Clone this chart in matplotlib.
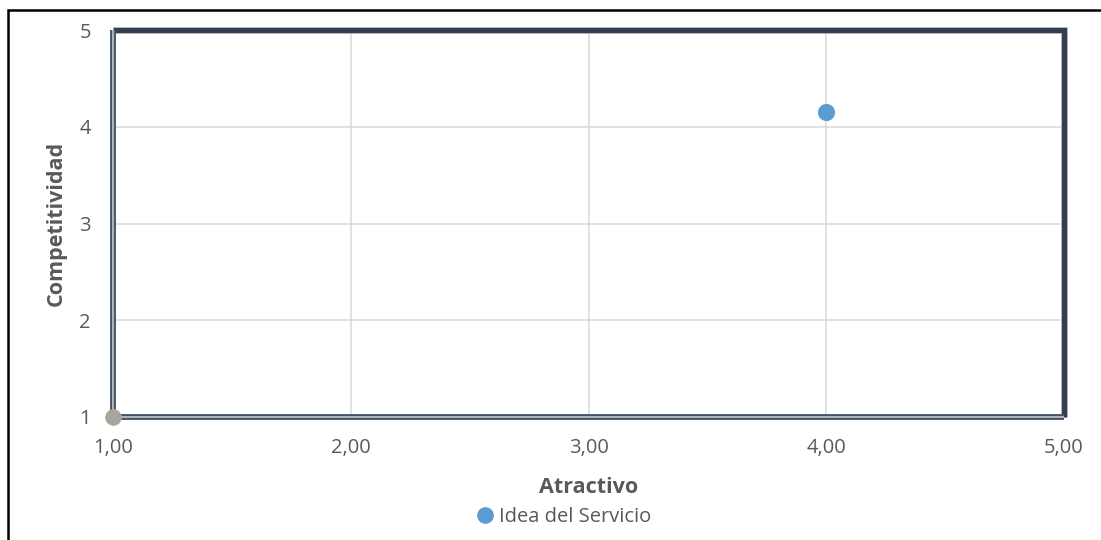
import matplotlib
matplotlib.use("Agg")
import matplotlib.pyplot as plt
from matplotlib.lines import Line2D

plt.rcParams['font.family'] = ['Open Sans', 'DejaVu Sans']

# Data
series_name = "Idea del Servicio"
atractivo = [4.0]
competitividad = [4.15]
origin_x = [1.0]
origin_y = [1.0]
x_ticks = [1, 2, 3, 4, 5]
x_tick_labels = ["1,00", "2,00", "3,00", "4,00", "5,00"]
y_ticks = [1, 2, 3, 4, 5]
y_tick_labels = ["1", "2", "3", "4", "5"]
x_min, x_max = 1, 5
y_min, y_max = 1, 5

W, H = 1101, 540
fig = plt.figure(figsize=(W / 100, H / 100), dpi=100)
ax = fig.add_axes([113 / W, 1 - 417 / H, 951 / W, 387 / H])

grey_text = '#595959'
ax.set_xlim(x_min, x_max)
ax.set_ylim(y_min, y_max)
ax.set_xticks(x_ticks)
ax.set_xticklabels(x_tick_labels)
ax.set_yticks(y_ticks)
ax.set_yticklabels(y_tick_labels)
ax.tick_params(axis='both', length=0, labelsize=14.5, colors=grey_text)
ax.tick_params(axis='x', pad=15)
ax.tick_params(axis='y', pad=16)
ax.grid(True, color='#D9D9D9', linewidth=1.1)
ax.set_axisbelow(True)
for s in ax.spines.values():
    s.set_visible(False)

# Box lines: top and right thick dark with light shadow
ax.plot([x_min, x_max, x_max], [y_max, y_max, y_min], color='#C8CCD2', lw=5.0,
        solid_joinstyle='miter', solid_capstyle='butt', clip_on=False, zorder=3)
ax.plot([x_min, x_max, x_max], [y_max, y_max, y_min], color='#333F50', lw=3.8,
        solid_joinstyle='miter', solid_capstyle='butt', clip_on=False, zorder=4)
# Left and bottom double lines
ax.plot([x_min, x_min, x_max], [y_max, y_min, y_min], color='#44546A', lw=4.2,
        solid_joinstyle='miter', solid_capstyle='butt', clip_on=False, zorder=4)
ax.plot([x_min, x_min, x_max], [y_max, y_min, y_min], color='#B4B8BE', lw=1.4,
        solid_joinstyle='miter', solid_capstyle='butt', clip_on=False, zorder=5)

# Points
ax.plot(origin_x, origin_y, 'o', color='#A5A5A5', markeredgecolor='#C9A77C',
        markeredgewidth=0.6, markersize=11.3, clip_on=False, zorder=6)
ax.plot(atractivo, competitividad, 'o', color='#5B9BD5', markersize=11.3,
        clip_on=False, zorder=6, label=series_name)

ax.set_xlabel('Atractivo', fontsize=15.5, fontweight='bold', color=grey_text)
ax.xaxis.set_label_coords(0.5, (417 - 477) / 387)
ax.set_ylabel('Competitividad', fontsize=15.5, fontweight='bold', color=grey_text)
ax.yaxis.set_label_coords((67 - 113) / 951, 0.5)

leg = fig.legend(handles=[Line2D([], [], marker='o', ls='', color='#5B9BD5', markersize=11)],
                 labels=[series_name], loc='center', bbox_to_anchor=(558 / W, 1 - 517 / H),
                 frameon=False, fontsize=14.5, handletextpad=-0.3, borderpad=0)
for t in leg.get_texts():
    t.set_color(grey_text)

# Outer frame (top and left)
fig.add_artist(Line2D([8 / W, 8 / W, 1.0], [0.0, 1 - 10 / H, 1 - 10 / H],
                      transform=fig.transFigure, color='black', lw=1.8,
                      solid_joinstyle='miter'))

fig.savefig('out.png', dpi=100, facecolor='white')
